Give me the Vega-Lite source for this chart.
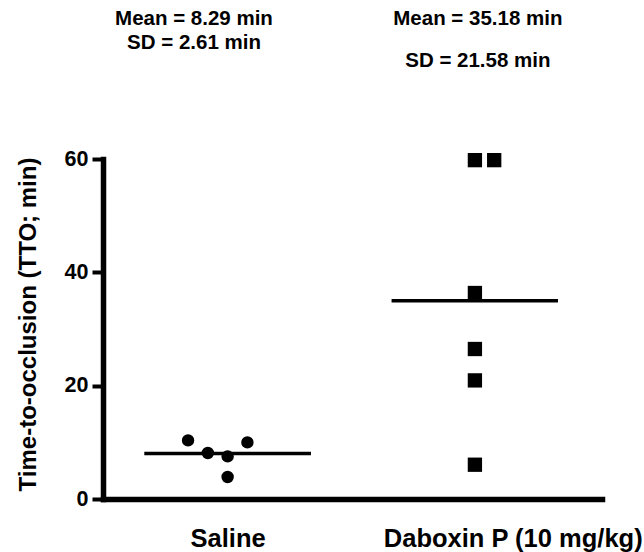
{
  "$schema": "https://vega.github.io/schema/vega-lite/v6.json",
  "autosize": {"type": "none"},
  "padding": {"left": 103, "top": 159, "right": 42, "bottom": 53},
  "width": 499,
  "height": 340,
  "background": "white",
  "config": {
    "font": "Liberation Sans",
    "view": {"stroke": null}
  },
  "datasets": {
    "points": [
      {"group": "Saline", "pos": 0.84, "tto": 10.34},
      {"group": "Saline", "pos": 0.92, "tto": 8.12},
      {"group": "Saline", "pos": 1.0, "tto": 7.52},
      {"group": "Saline", "pos": 1.0, "tto": 3.88},
      {"group": "Saline", "pos": 1.08, "tto": 9.99},
      {"group": "Daboxin", "pos": 2.0, "tto": 59.8},
      {"group": "Daboxin", "pos": 2.078, "tto": 59.8},
      {"group": "Daboxin", "pos": 2.0, "tto": 36.35},
      {"group": "Daboxin", "pos": 2.0, "tto": 26.47},
      {"group": "Daboxin", "pos": 2.0, "tto": 20.93},
      {"group": "Daboxin", "pos": 2.0, "tto": 6.05}
    ],
    "means": [
      {"group": "Saline", "start": 0.663, "end": 1.337, "mean": 8.05},
      {"group": "Daboxin", "start": 1.663, "end": 2.336, "mean": 35.0}
    ],
    "notes": [
      {"pos": 0.864, "tto": 84.7, "label": "Mean = 8.29 min"},
      {"pos": 0.864, "tto": 80.5, "label": "SD = 2.61 min"},
      {"pos": 2.012, "tto": 84.7, "label": "Mean = 35.18 min"},
      {"pos": 2.012, "tto": 77.3, "label": "SD = 21.58 min"}
    ]
  },
  "layer": [
    {
      "data": {"name": "means"},
      "mark": {"type": "rule", "color": "black", "strokeWidth": 3.5},
      "encoding": {
        "x": {
          "field": "start", "type": "quantitative",
          "scale": {"domain": [0.496, 2.514], "nice": false, "zero": false},
          "axis": {
            "values": [1, 2.153],
            "labelExpr": "datum.value < 1.5 ? 'Saline' : 'Daboxin P (10 mg/kg)'",
            "ticks": false,
            "grid": false,
            "title": null,
            "domainWidth": 5.5,
            "domainColor": "black",
            "domainCap": "square",
            "labelFontSize": 25.5,
            "labelFontWeight": "bold",
            "labelColor": "black",
            "labelPadding": 27,
            "labelLimit": 0,
            "labelFlush": false,
            "labelOverlap": false,
            "labelBound": false
          }
        },
        "x2": {"field": "end"},
        "y": {
          "field": "mean", "type": "quantitative",
          "scale": {"domain": [0, 60], "nice": false},
          "axis": {
            "values": [0, 20, 40, 60],
            "grid": false,
            "domainWidth": 5.5,
            "domainColor": "black",
            "domainCap": "square",
            "tickWidth": 4,
            "tickSize": 11,
            "tickColor": "black",
            "labelFontSize": 21.5,
            "labelFontWeight": "bold",
            "labelColor": "black",
            "labelPadding": 4,
            "title": "Time-to-occlusion (TTO; min)",
            "titleFontSize": 24,
            "titleFontWeight": "bold",
            "titleColor": "black",
            "titlePadding": 24,
            "titleY": 165
          }
        }
      }
    },
    {
      "data": {"name": "points"},
      "transform": [{"filter": "datum.group === 'Saline'"}],
      "mark": {"type": "point", "shape": "circle", "filled": true, "color": "black", "opacity": 1, "size": 154},
      "encoding": {
        "x": {"field": "pos", "type": "quantitative"},
        "y": {"field": "tto", "type": "quantitative"}
      }
    },
    {
      "data": {"name": "points"},
      "transform": [{"filter": "datum.group === 'Daboxin'"}],
      "mark": {"type": "point", "shape": "square", "filled": true, "color": "black", "opacity": 1, "size": 205},
      "encoding": {
        "x": {"field": "pos", "type": "quantitative"},
        "y": {"field": "tto", "type": "quantitative"}
      }
    },
    {
      "data": {"name": "notes"},
      "mark": {"type": "text", "fontSize": 20.5, "fontWeight": "bold", "color": "black", "align": "center", "baseline": "middle"},
      "encoding": {
        "x": {"field": "pos", "type": "quantitative"},
        "y": {"field": "tto", "type": "quantitative"},
        "text": {"field": "label"}
      }
    }
  ]
}
